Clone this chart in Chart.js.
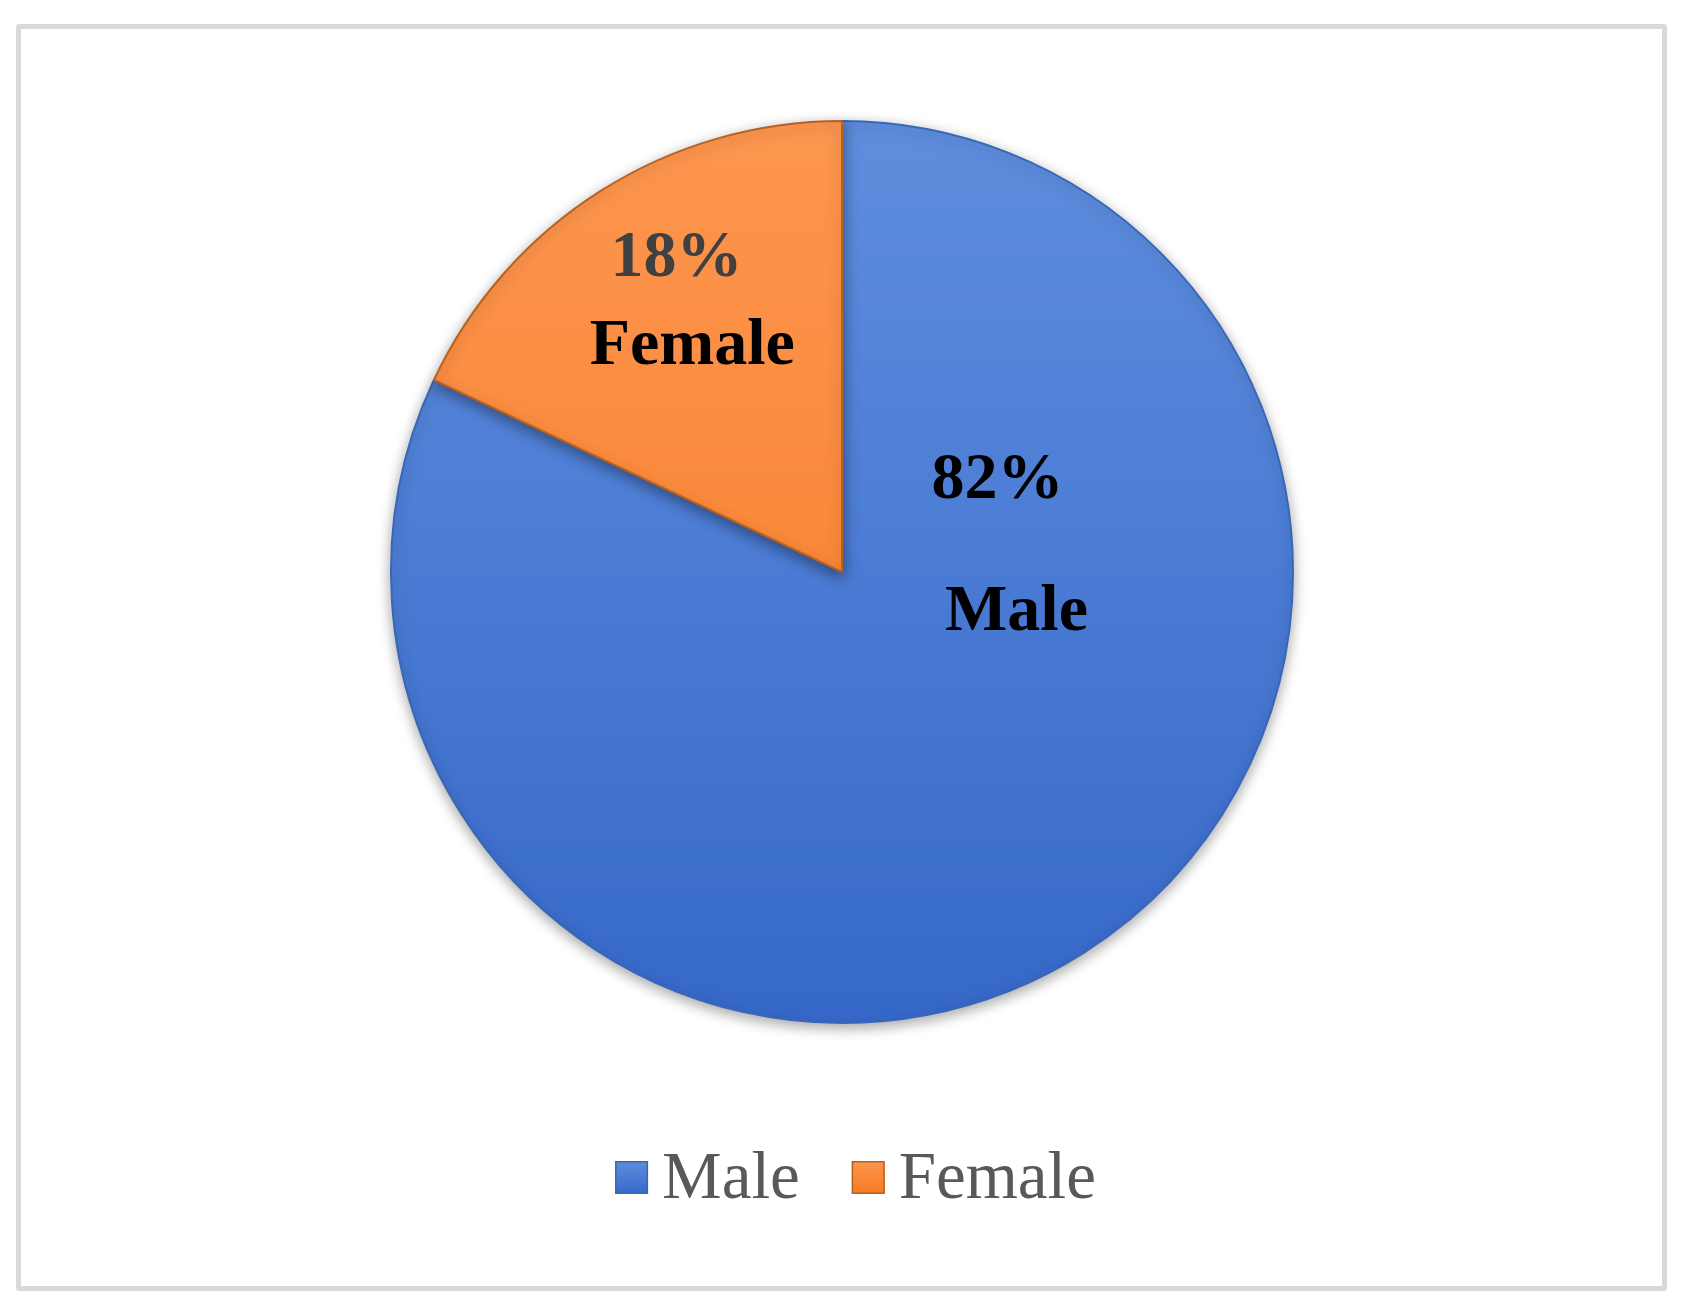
<!DOCTYPE html>
<html>
<head>
<meta charset="utf-8">
<script src="https://cdn.jsdelivr.net/npm/chart.js@4/dist/chart.umd.min.js"></script>
<style>
	html, body { margin: 0; padding: 0; background: #fff; }
	#frame {
		position: absolute; left: 16px; top: 24px;
		width: 1641px; height: 1257px;
		border: 5px solid #d9d9d9; border-radius: 3px;
	}
	#wrap { position: absolute; left: 0; top: 0; width: 1689px; height: 1314px; }
</style>
</head>
<body>
<div id="frame"></div>
<div id="wrap"><canvas id="chartGenero" width="1689" height="1314"></canvas></div>
<script>
const categorias = ['Male', 'Female']
const porcentajes = [82, 18]
const etiquetas = ['82%', '18%']

// colores: [claro, oscuro] por sector
const colores = [['#5f8ede', '#3668c9'], ['#fd9650', '#f57a22']]
const bordes = ['#3a66b8', '#b8621f']
// colores del texto del porcentaje
const colorPct = ['#000000', '#404040']

// posiciones de etiquetas relativas al centro, en fracción del radio (pct y nombre)
const posEtiquetas = [
	{ pct: [0.345, -0.164], nom: [0.387, 0.128] },
	{ pct: [-0.367, -0.657], nom: [-0.332, -0.462] },
]

function relleno(context) {
	const chart = context.chart
	const area = chart.chartArea
	const i = context.dataIndex
	if (!area) return colores[i][1]
	const g = chart.ctx.createLinearGradient(0, area.top, 0, area.bottom)
	g.addColorStop(0, colores[i][0])
	g.addColorStop(1, colores[i][1])
	return g
}

const sombra = {
	id: 'sombra',
	beforeDatasetsDraw(chart) {
		const ctx = chart.ctx
		ctx.save()
		ctx.shadowColor = 'rgba(0,0,0,0.35)'
		ctx.shadowBlur = 14
		ctx.shadowOffsetY = 4
	},
	afterDatasetsDraw(chart) {
		chart.ctx.restore()
	},
}

const textos = {
	id: 'textos',
	afterDatasetsDraw(chart) {
		const ctx = chart.ctx
		const arcs = chart.getDatasetMeta(0).data
		ctx.save()
		ctx.shadowColor = 'transparent'
		ctx.textAlign = 'center'
		ctx.textBaseline = 'alphabetic'
		ctx.font = 'bold 66px "Liberation Serif"'
		arcs.forEach((arc, i) => {
			const r = arc.outerRadius
			const p = posEtiquetas[i]
			ctx.fillStyle = colorPct[i]
			ctx.fillText(etiquetas[i], arc.x + p.pct[0] * r, arc.y + p.pct[1] * r)
			ctx.fillStyle = '#000'
			ctx.fillText(categorias[i], arc.x + p.nom[0] * r, arc.y + p.nom[1] * r)
		})
		ctx.restore()
	},
}

const leyenda = {
	id: 'leyenda',
	afterDraw(chart) {
		const ctx = chart.ctx
		const box = 33, gap = 14, sep = 52
		ctx.save()
		ctx.font = '67px "Liberation Serif"'
		const anchos = categorias.map((c) => ctx.measureText(c).width)
		const total = anchos.reduce((a, w) => a + box + gap + w, 0) + sep * (categorias.length - 1)
		let x = chart.width / 2 + 11 - total / 2
		const base = 1198
		const yBox = 1161
		categorias.forEach((c, i) => {
			const g = ctx.createLinearGradient(0, yBox, 0, yBox + box)
			g.addColorStop(0, colores[i][0])
			g.addColorStop(1, colores[i][1])
			ctx.fillStyle = g
			ctx.fillRect(x, yBox, box, box)
			ctx.strokeStyle = bordes[i]
			ctx.lineWidth = 1.5
			ctx.strokeRect(x + 0.75, yBox + 0.75, box - 1.5, box - 1.5)
			ctx.fillStyle = '#595959'
			ctx.textBaseline = 'alphabetic'
			ctx.fillText(c, x + box + gap, base)
			x += box + gap + anchos[i] + sep
		})
		ctx.restore()
	},
}

const ctxGenero = document.getElementById('chartGenero').getContext('2d')
const chartGenero = new Chart(ctxGenero, {
	type: 'pie',
	data: {
		labels: categorias,
		datasets: [
			{
				data: porcentajes,
				backgroundColor: relleno,
				borderColor: bordes,
				borderWidth: 2,
			},
		],
	},
	options: {
		responsive: false,
		animation: false,
		layout: { padding: { left: 0, right: 5, top: 120, bottom: 290 } },
		plugins: {
			legend: { display: false },
			tooltip: { enabled: false },
		},
	},
	plugins: [sombra, textos, leyenda],
})
</script>
</body>
</html>
